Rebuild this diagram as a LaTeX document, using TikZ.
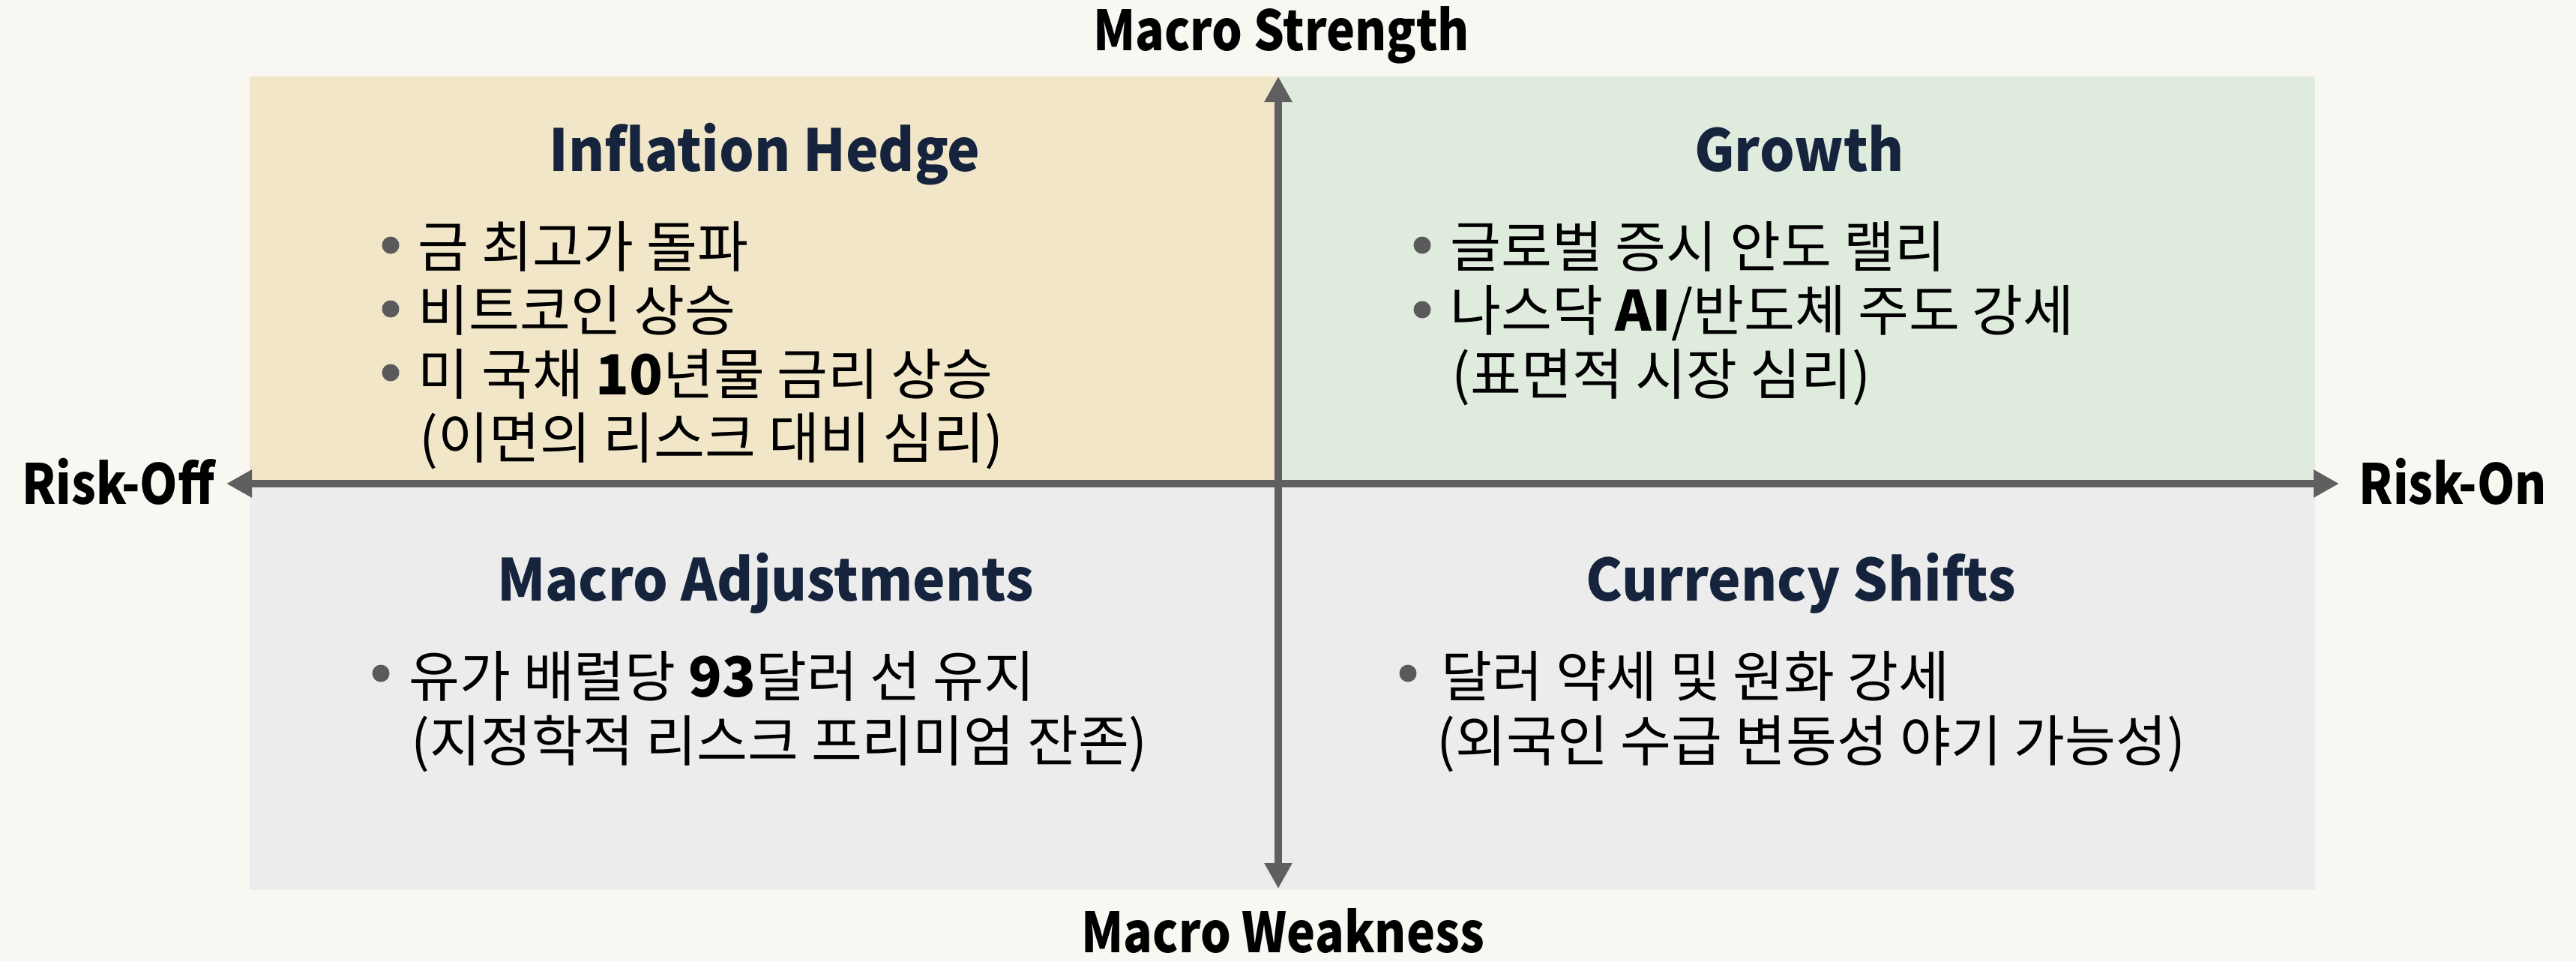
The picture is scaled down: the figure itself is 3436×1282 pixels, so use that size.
\documentclass[tikz,border=0pt]{standalone}
\usepackage{fontspec}
\setmainfont{Noto Sans CJK KR}
\newfontfamily\axisfont{Noto Sans CJK KR}[FakeStretch=0.87]
\newfontfamily\titlefont{Noto Sans CJK KR}[FakeStretch=0.95]
\usetikzlibrary{arrows.meta}

\definecolor{paper}{HTML}{F8F7F2}
\definecolor{hedgebeige}{HTML}{F2E6C8}
\definecolor{growthgreen}{HTML}{DFEBDD}
\definecolor{weakgray}{HTML}{ECECEC}
\definecolor{titlenavy}{HTML}{15233D}
\definecolor{axisgray}{HTML}{5F5F5F}
\definecolor{dotgray}{HTML}{5A5A5A}

\tikzset{
  axisline/.style={draw=axisgray, line width=0.95mm,
    {Triangle[length=3.4mm,width=3.5mm]}-{Triangle[length=3.4mm,width=3.5mm]}},
  axislabel/.style={font=\axisfont\fontsize{21pt}{25pt}\selectfont\bfseries, inner sep=0pt},
  quadtitle/.style={font=\titlefont\fontsize{22pt}{26pt}\selectfont\bfseries, text=titlenavy,
    inner sep=0pt, anchor=base},
  itemline/.style={font=\fontsize{21pt}{25pt}\selectfont, inner sep=0pt, anchor=base west},
  bulletdot/.style={fill=dotgray}
}

\begin{document}
\begin{tikzpicture}[x=0.1mm,y=-0.1mm]

    % background and quadrants
    \fill[paper] (0,0) rectangle (3436,1282);
    \useasboundingbox (0,0) rectangle (3436,1282);
    \fill[hedgebeige] (333,102) rectangle (1705,645);
    \fill[growthgreen] (1705,102) rectangle (3088,645);
    \fill[weakgray] (333,645) rectangle (3088,1187);

    % axes
    \coordinate (strengthEnd) at (1705,102);
    \coordinate (weaknessEnd) at (1705,1185);
    \coordinate (offEnd) at (302,645);
    \coordinate (onEnd) at (3120,645);
    \draw[axisline] (weaknessEnd) -- (strengthEnd);
    \draw[axisline] (offEnd) -- (onEnd);

    \node[axislabel, anchor=base] (strength) at (1709,67) {Macro Strength};
    \node[axislabel, anchor=base] (weakness) at (1711,1270) {Macro Weakness};
    \node[axislabel, anchor=base east] (riskoff) at (287,672) {Risk-Off};
    \node[axislabel, anchor=base west] (riskon) at (3146,672) {Risk-On};

    % quadrant titles
    \node[quadtitle] (hedge) at (1020,228) {Inflation Hedge};
    \node[quadtitle] (growth) at (2400,228) {Growth};
    \node[quadtitle] (adjust) at (1021,801) {Macro Adjustments};
    \node[quadtitle] (currency) at (2402,801) {Currency Shifts};

    % inflation hedge
    \fill[bulletdot] (521,327) circle (11.5);
    \fill[bulletdot] (521,412) circle (11.5);
    \fill[bulletdot] (521,497) circle (11.5);
    \node[itemline] (hedge1) at (557,356) {금 최고가 돌파};
    \node[itemline] (hedge2) at (557,441) {비트코인 상승};
    \node[itemline] (hedge3) at (557,526) {미 국채 \textbf{10}년물 금리 상승};
    \node[itemline] (hedge4) at (559,611) {(이면의 리스크 대비 심리)};

    % growth
    \fill[bulletdot] (1897,327) circle (11.5);
    \fill[bulletdot] (1897,413) circle (11.5);
    \node[itemline] (growth1) at (1934,356) {글로벌 증시 안도 랠리};
    \node[itemline] (growth2) at (1934,441) {나스닥 \textbf{AI}/반도체 주도 강세};
    \node[itemline] (growth3) at (1936,526) {(표면적 시장 심리)};

    % macro adjustments
    \fill[bulletdot] (508,898) circle (11.5);
    \node[itemline] (adjust1) at (545,929) {유가 배럴당 \textbf{93}달러 선 유지};
    \node[itemline] (adjust2) at (548,1015) {(지정학적 리스크 프리미엄 잔존)};

    % currency shifts
    \fill[bulletdot] (1878,898) circle (11.5);
    \node[itemline] (currency1) at (1922,929) {달러 약세 및 원화 강세};
    \node[itemline] (currency2) at (1916,1015) {(외국인 수급 변동성 야기 가능성)};

\end{tikzpicture}
\end{document}
